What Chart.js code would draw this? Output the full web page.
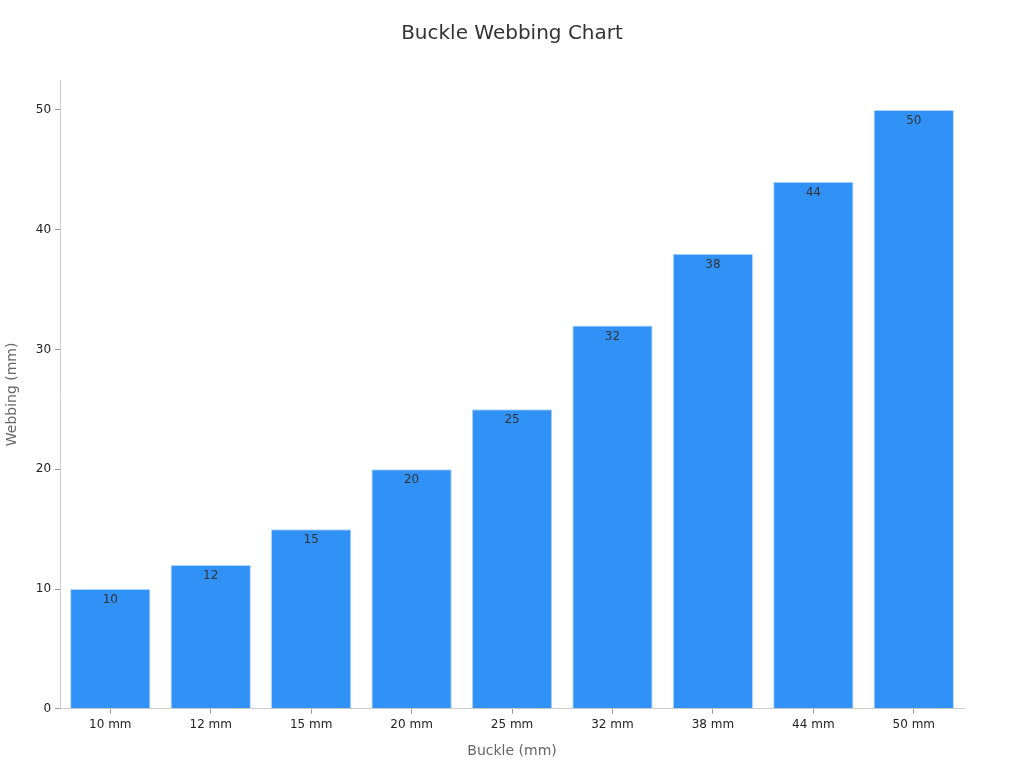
<!DOCTYPE html>
<html>
<head>
<meta charset="utf-8">
<script src="https://cdn.jsdelivr.net/npm/chart.js@4/dist/chart.umd.min.js"></script>
<style>
  html, body { margin: 0; padding: 0; background: #fff; }
  #wrap { width: 1024px; height: 768px; }
</style>
</head>
<body>
<div id="wrap"><canvas id="c"></canvas></div>
<script>
const buckles = ['10 mm', '12 mm', '15 mm', '20 mm', '25 mm', '32 mm', '38 mm', '44 mm', '50 mm'];
const webbing = [10, 12, 15, 20, 25, 32, 38, 44, 50];
const yTicks  = [0, 10, 20, 30, 40, 50];
const chartTitle = 'Buckle Webbing Chart';

Chart.defaults.font.family = 'DejaVu Sans';

// value text just inside the top of each bar, plus the page-centred title
const barLabels = {
  id: 'barLabels',
  afterDatasetsDraw(chart) {
    const ctx = chart.ctx;
    ctx.save();
    ctx.font = '12px DejaVu Sans';
    ctx.fillStyle = '#333';
    ctx.textAlign = 'center';
    ctx.textBaseline = 'top';
    chart.getDatasetMeta(0).data.forEach((bar, i) => {
      ctx.fillText(String(webbing[i]), bar.x, bar.y + 5);
    });
    ctx.font = '20px DejaVu Sans';
    ctx.textBaseline = 'middle';
    ctx.fillText(chartTitle, chart.width / 2, 34);
    ctx.restore();
  }
};

new Chart(document.getElementById('c'), {
  type: 'bar',
  data: {
    labels: buckles,
    datasets: [{
      data: webbing,
      backgroundColor: '#3091f7',
      borderColor: '#b5d6fb',
      borderWidth: 1,
      barPercentage: 0.8,
      categoryPercentage: 1,
    }],
  },
  options: {
    responsive: true, maintainAspectRatio: false, animation: false,
    layout: { padding: { left: 0, right: 60, top: 80, bottom: 4 } },
    plugins: {
      legend: { display: false },
      tooltip: { enabled: false },
      title: { display: false },
    },
    scales: {
      x: {
        grid: { display: true, offset: false, drawOnChartArea: false, drawTicks: true, tickLength: 5, color: '#999' },
        border: { color: '#ccc' },
        ticks: { color: '#222', font: { size: 12 }, padding: 4 },
        title: { display: true, text: 'Buckle (mm)', color: '#666', font: { size: 14 }, padding: { top: 7 } },
      },
      y: {
        min: 0, max: 52.5,
        afterBuildTicks: axis => { axis.ticks = yTicks.map(v => ({ value: v })); },
        grid: { display: true, drawOnChartArea: false, drawTicks: true, tickLength: 5, color: '#999' },
        border: { color: '#ccc' },
        ticks: { color: '#222', font: { size: 12 }, padding: 4 },
        title: { display: true, text: 'Webbing (mm)', color: '#666', font: { size: 14 }, padding: { bottom: 11 } },
      },
    },
  },
  plugins: [barLabels],
});
</script>
</body>
</html>
